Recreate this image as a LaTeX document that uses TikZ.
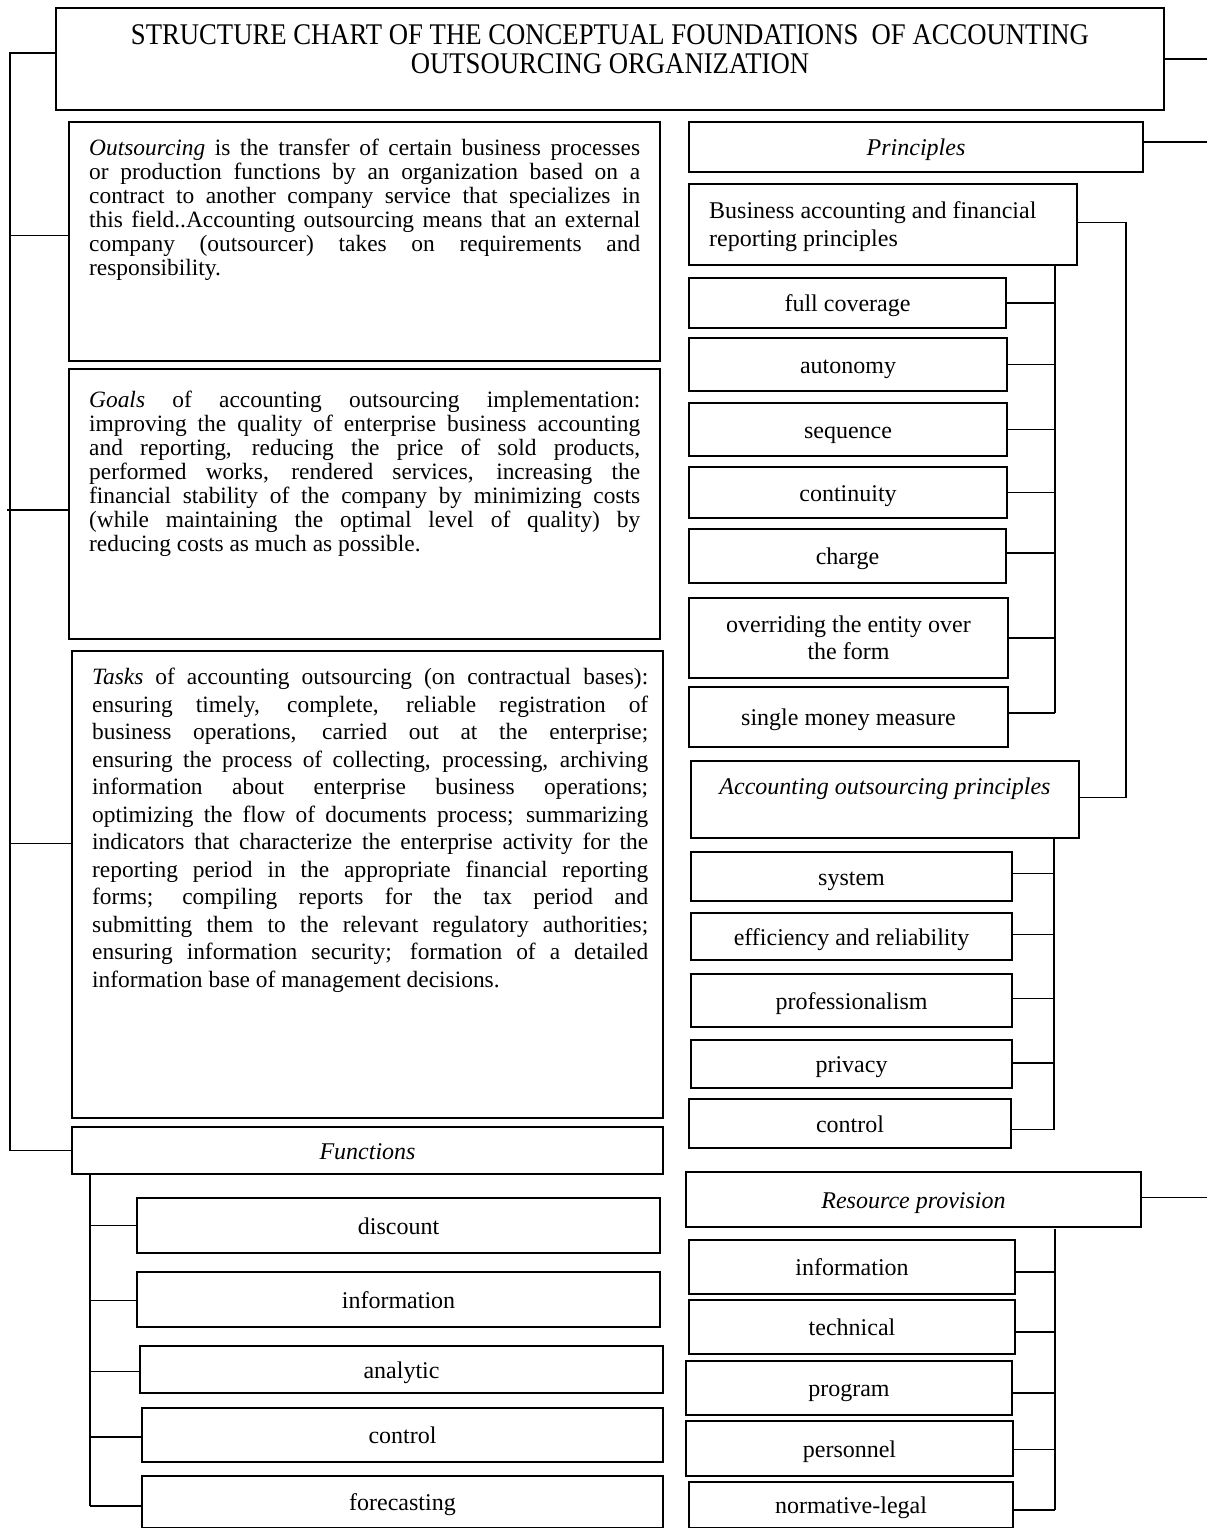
\documentclass[tikz,border=0pt]{standalone}
\usepackage{fontspec}
\setmainfont{Liberation Serif}
\newfontfamily\titlefont[FakeStretch=0.89]{Liberation Serif}
\hyphenpenalty=10000
\emergencystretch=20pt
\begin{document}
\begin{tikzpicture}[x=1pt,y=-1pt,
  frame/.style={draw, line width=1.5pt, inner sep=0pt, outer sep=0pt, anchor=north west,
    font=\fontsize{24}{27}\selectfont},
  box/.style={frame, text height=20pt, text depth=2.5pt},
  conn/.style={line width=1.4pt},
  txt/.style={inner sep=0pt, font=\fontsize{24}{27}\selectfont},
  para/.style={anchor=north west, inner sep=0pt, text width=#1, align=justify,
    font=\fontsize{23.4}{24}\selectfont},
  ttl/.style={inner sep=0pt, font=\titlefont\fontsize{30}{29}\selectfont},
]
\useasboundingbox (0,0) rectangle (1207,1528);
\coordinate (lbus) at (10,0);
\coordinate (redge) at (1207,0);
\coordinate (bA) at (1126,0);
\coordinate (bB) at (1055,0);
\coordinate (bC) at (1054,0);
\coordinate (bD) at (1055,0);
\coordinate (bE) at (90,0);

% ---------- title ----------
\node[frame, minimum width=1108, minimum height=102] (title) at (56,8) {};
\node[ttl] (title1) at (610,35) {STRUCTURE CHART OF THE CONCEPTUAL FOUNDATIONS\ \ OF ACCOUNTING};
\node[ttl] (title2) at (610,64) {OUTSOURCING ORGANIZATION};

% ---------- left column ----------
\node[frame, minimum width=591, minimum height=239] (out) at (69,122) {};
\node[para=551] (outt) at (89,139) {\textit{Outsourcing} is the transfer of certain business processes\linebreak
or production functions by an organization based on a\linebreak
contract to another company service that specializes in\linebreak
this field..Accounting outsourcing means that an external\linebreak
company (outsourcer) takes on requirements and\linebreak
responsibility.};

\node[frame, minimum width=591, minimum height=270] (goals) at (69,369) {};
\node[para=551] (goalst) at (89,391) {\textit{Goals} of accounting outsourcing implementation:\linebreak
improving the quality of enterprise business accounting\linebreak
and reporting, reducing the price of sold products,\linebreak
performed works, rendered services, increasing the\linebreak
financial stability of the company by minimizing costs\linebreak
(while maintaining the optimal level of quality) by\linebreak
reducing costs as much as possible.};

\node[frame, minimum width=591, minimum height=467] (tasks) at (72,651) {};
\node[para=556, font=\fontsize{23.4}{27.5}\selectfont] (taskst) at (92,668) {\textit{Tasks} of accounting outsourcing (on contractual bases):\linebreak
ensuring timely, complete, reliable registration of\linebreak
business operations, carried out at the enterprise;\linebreak
ensuring the process of collecting, processing, archiving\linebreak
information about enterprise business operations;\linebreak
optimizing the flow of documents process; summarizing\linebreak
indicators that characterize the enterprise activity for the\linebreak
reporting period in the appropriate financial reporting\linebreak
forms; compiling reports for the tax period and\linebreak
submitting them to the relevant regulatory authorities;\linebreak
ensuring information security; formation of a detailed\linebreak
information base of management decisions.};

\node[box, minimum width=591, minimum height=47] (fun) at (72,1127) {\textit{Functions}};
\node[box, minimum width=523, minimum height=55] (f1) at (137,1198) {discount};
\node[box, minimum width=523, minimum height=55] (f2) at (137,1272) {information};
\node[box, minimum width=523, minimum height=47] (f3) at (140,1346) {analytic};
\node[box, minimum width=521, minimum height=54] (f4) at (142,1408) {control};
\node[box, minimum width=521, minimum height=52] (f5) at (142,1476) {forecasting};

% ---------- right column ----------
\node[box, minimum width=454, minimum height=50] (prin) at (689,122) {\textit{Principles}};
\node[frame, minimum width=388, minimum height=81] (bus) at (689,184) {};
\node[txt, anchor=west, align=left, font=\fontsize{24}{28}\selectfont] (bust) at (709,227) {Business accounting and financial\\reporting principles};
\node[box, minimum width=317, minimum height=50] (p1) at (689,278) {full coverage};
\node[box, minimum width=318, minimum height=53] (p2) at (689,338) {autonomy};
\node[box, minimum width=318, minimum height=53] (p3) at (689,403) {sequence};
\node[box, minimum width=318, minimum height=51] (p4) at (689,467) {continuity};
\node[box, minimum width=317, minimum height=54] (p5) at (689,529) {charge};
\node[frame, minimum width=319, minimum height=80, align=center] (p6) at (689,598) {overriding the entity over\\the form};
\node[box, minimum width=319, minimum height=60] (p7) at (689,687) {single money measure};

\node[frame, minimum width=388, minimum height=77] (acc) at (691,761) {};
\node[txt] (acct) at (885,789) {\textit{Accounting outsourcing principles}};
\node[box, minimum width=321, minimum height=49] (a1) at (691,852) {system};
\node[box, minimum width=321, minimum height=47] (a2) at (691,913) {efficiency and reliability};
\node[box, minimum width=321, minimum height=53] (a3) at (691,974) {professionalism};
\node[box, minimum width=321, minimum height=48] (a4) at (691,1040) {privacy};
\node[box, minimum width=322, minimum height=49] (a5) at (689,1099) {control};

\node[box, minimum width=455, minimum height=55] (res) at (686,1172) {\textit{Resource provision}};
\node[box, minimum width=326, minimum height=54] (r1) at (689,1240) {information};
\node[box, minimum width=326, minimum height=54] (r2) at (689,1300) {technical};
\node[box, minimum width=326, minimum height=54] (r3) at (686,1361) {program};
\node[box, minimum width=327, minimum height=55] (r4) at (686,1421) {personnel};
\node[box, minimum width=324, minimum height=46] (r5) at (689,1482) {normative-legal};

% ---------- connectors: left ----------
\draw[conn] ([yshift=6pt]title.west) -- ([yshift=6pt]title.west -| lbus) -- (fun.west -| lbus) -- (fun.west);
\draw[conn] ([yshift=6pt]out.west) -- ([yshift=6pt]out.west -| lbus);
\draw[conn] ([yshift=-6pt]goals.west) -- ++(-62,0);
\draw[conn] ([yshift=41pt]tasks.west) -- ([yshift=41pt]tasks.west -| lbus);

\draw[conn] (fun.south -| bE) -- ([yshift=-4pt]f5.west -| bE);
\foreach \n/\s in {f1/0,f2/-1,f3/-2,f4/-2,f5/-4}
  \draw[conn] ([yshift=\s pt]\n.west) -- ([yshift=\s pt]\n.west -| bE);

% ---------- connectors: right ----------
\draw[conn] (title.east) -- (title.east -| redge);
\draw[conn] ([yshift=5pt]prin.east) -- ([yshift=5pt]prin.east -| redge);
\draw[conn] ([yshift=2pt]res.east) -- ([yshift=2pt]res.east -| redge);

\draw[conn] ([yshift=2pt]bus.east) -- ([yshift=2pt]bus.east -| bA) -- ([yshift=2pt]acc.east -| bA) -- ([yshift=2pt]acc.east);
\draw[conn] (bus.south -| bB) -- ([yshift=4pt]p7.east -| bB);
\foreach \n/\s in {p1/0,p2/0,p3/0,p4/0,p5/3,p6/0,p7/4}
  \draw[conn] ([yshift=\s pt]\n.east) -- ([yshift=\s pt]\n.east -| bB);

\draw[conn] (acc.south -| bC) -- ([yshift=-6pt]a5.east -| bC);
\foreach \n/\s in {a1/3,a2/2,a3/2,a4/1,a5/-6}
  \draw[conn] ([yshift=\s pt]\n.east) -- ([yshift=\s pt]\n.east -| bC);

\draw[conn] ([yshift=-2pt]res.south -| bD) -- ([yshift=-5pt]r5.east -| bD);
\foreach \n/\s in {r1/-5,r2/-5,r3/-5,r4/-1,r5/-5}
  \draw[conn] ([yshift=\s pt]\n.east) -- ([yshift=\s pt]\n.east -| bD);
\end{tikzpicture}
\end{document}
